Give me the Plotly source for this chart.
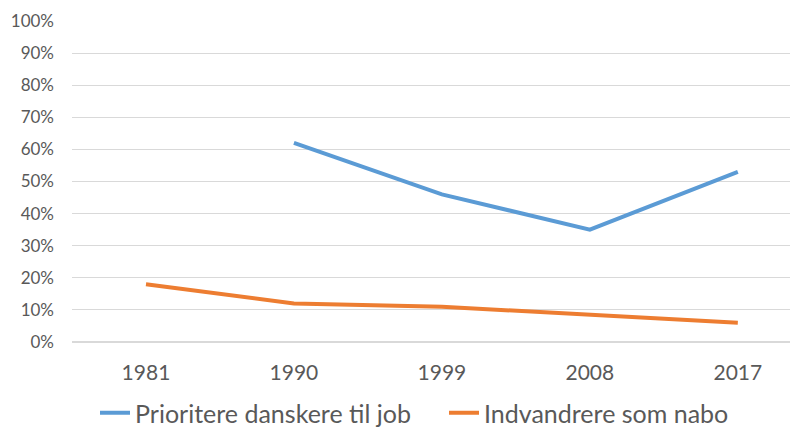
import plotly.graph_objects as go

years = ["1981", "1990", "1999", "2008", "2017"]
prioritere = [None, 0.62, 0.46, 0.35, 0.53]
indvandrere = [0.18, 0.12, 0.11, 0.085, 0.06]
y_ticks = [i / 10 for i in range(11)]
y_labels = [f"{i*10}%" for i in range(11)]

W, H = 790, 420  # page body adds an 8px offset

fig = go.Figure()
fig.add_trace(go.Scatter(x=years, y=prioritere, mode="lines", name="Prioritere danskere til job",
                         line=dict(color="#5B9BD5", width=4), connectgaps=False))
fig.add_trace(go.Scatter(x=years, y=indvandrere, mode="lines", name="Indvandrere som nabo",
                         line=dict(color="#ED7D31", width=4)))

fig.update_layout(
    width=W, height=H,
    margin=dict(l=64, r=1, t=13, b=86, autoexpand=False),
    plot_bgcolor="white", paper_bgcolor="white",
    font=dict(family="Lato, Open Sans, sans-serif", color="#595959"),
    showlegend=True,
    legend=dict(orientation="h", xref="container", yref="container",
                x=87 / W, xanchor="left", y=1 - 405 / H, yanchor="middle",
                font=dict(size=25, color="#595959"), itemwidth=30, tracegroupgap=0,
                entrywidth=304, entrywidthmode="pixels"),
    xaxis=dict(type="category", range=[-0.5, 4.4], showgrid=False, showline=False,
               ticks="", tickfont=dict(size=21, color="#595959"), ticklabelstandoff=16,
               automargin=False),
    yaxis=dict(range=[0, 1], tickvals=y_ticks, ticktext=y_labels, showgrid=True,
               gridcolor="#D9D9D9", gridwidth=1, zeroline=True, zerolinecolor="#D9D9D9",
               tickfont=dict(size=17, color="#595959"), ticks="", ticklabelstandoff=17,
               automargin=False),
)
fig.write_html("out.html")
